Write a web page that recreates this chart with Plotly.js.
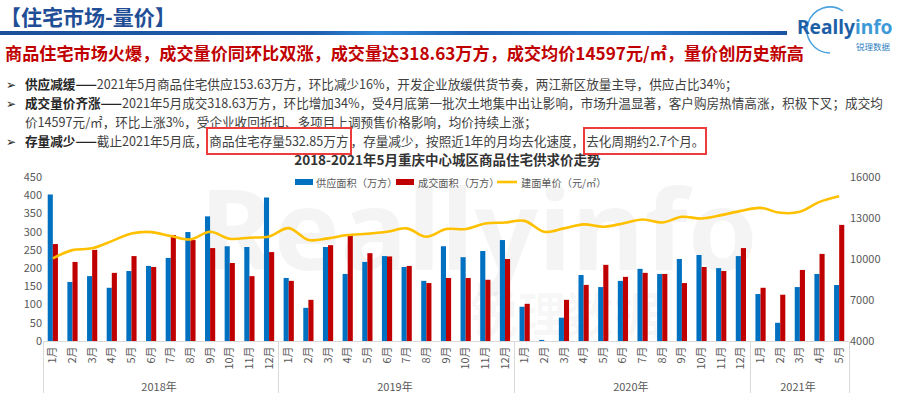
<!DOCTYPE html>
<html>
<head>
<meta charset="utf-8">
<script src="https://cdn.plot.ly/plotly-3.0.1.min.js"></script>
<style>
  html, body { margin:0; padding:0; background:#fff; }
  #page { position:relative; width:900px; height:393px; overflow:hidden; font-family:"Noto Sans CJK SC","Noto Sans",sans-serif; }
  .abs { position:absolute; white-space:nowrap; line-height:1; }
  #chart { position:absolute; left:0; top:0; width:900px; height:393px; z-index:1; }
  .txt { z-index:2; }
  .bl { font-size:12.6px; color:#404040; left:25px; }
  .bl b { color:#262626; }
  .bul { font-size:12px; color:#262626; left:6px; font-family:"DejaVu Sans",sans-serif; }
  .box { border:2px solid #ee3b3b; padding:2px 1px 3px 1px; margin:0 -1px; }
</style>
</head>
<body>
<div id="page">
  <div class="abs txt" style="left:0;top:6px;font-size:21px;font-weight:bold;color:#1F4E96;">【住宅市场-量价】</div>
  <div class="abs txt" style="left:0;top:31px;width:787px;height:4px;background:linear-gradient(90deg,#1b4f9a 0%,#1f5fb0 40%,#2f86d6 48%,#1f62b4 60%,#2a7bd0 80%,#1b55a3 100%);"></div>

  <svg class="abs txt" style="left:785px;top:4px;" width="115" height="52">
    <path d="M 58 7 A 23 23 0 1 0 45 49" fill="none" stroke="#4aa3df" stroke-width="1.5"/>
    <text x="12" y="30" font-family="Noto Sans, sans-serif" font-weight="bold" font-size="19.2"><tspan fill="#1d5fa6">Really</tspan><tspan fill="#3d9ad6">info</tspan></text>
    <text x="71" y="46" font-family="Noto Sans CJK SC, sans-serif" font-size="8.5" fill="#2e7fc1">锐理数据</text>
  </svg>

  <div class="abs txt" style="left:5px;top:44px;font-size:17.15px;font-weight:bold;color:#C00000;">商品住宅市场火爆，成交量价同环比双涨，成交量达318.63万方，成交均价14597元/㎡，量价创历史新高</div>

  <div class="abs txt bul" style="top:79px;">➢</div>
  <div class="abs txt bl" style="top:78px;"><b>供应减缓——</b>2021年5月商品住宅供应153.63万方，环比减少16%，开发企业放缓供货节奏，两江新区放量主导，供应占比34%；</div>
  <div class="abs txt bul" style="top:98px;">➢</div>
  <div class="abs txt bl" style="top:97px;"><b>成交量价齐涨——</b>2021年5月成交318.63万方，环比增加34%，受4月底第一批次土地集中出让影响，市场升温显著，客户购房热情高涨，积极下叉；成交均</div>
  <div class="abs txt bl" style="top:116px;">价14597元/㎡，环比上涨3%，受企业收回折扣、多项目上调预售价格影响，均价持续上涨；</div>
  <div class="abs txt bul" style="top:136px;">➢</div>
  <div class="abs txt bl" style="top:135px;"><b>存量减少——</b>截止2021年5月底，<span class="box">商品住宅存量532.85万方</span>，存量减少，按照近1年的月均去化速度，<span class="box">去化周期约2.7个月。</span></div>

  <div id="chart"></div>
</div>
<script>
const yearNames = ['2018年','2019年','2020年','2021年'];
const monthsPerYear = [12, 12, 12, 5];
const monthNames = ['1月','2月','3月','4月','5月','6月','7月','8月','9月','10月','11月','12月'];

const supplyArea = [402,162,178,146,192,206,228,299,342,260,258,394,
                    173,91,258,184,217,233,203,165,260,230,247,277,
                    94,3,64,181,148,165,198,184,225,236,200,233,
                    129,50,148,184,153.63];
const dealArea =   [266,217,250,187,233,203,291,277,255,214,178,244,
                    165,113,263,289,241,232,206,159,173,173,168,225,
                    102,0,113,154,209,176,187,184,159,203,192,255,
                    146,127,195,239,318.63];
const unitPrice =  [10050,10650,10780,11310,11870,11970,11680,11430,11990,11480,11560,11650,
                    12260,11390,11510,11750,11850,11990,12240,11630,12190,12190,12600,12670,
                    12790,11990,12240,12530,12360,12600,12890,12670,13090,12960,13210,13520,
                    13740,13380,13450,14180,14597];

const seriesNames = ['供应面积（万方）','成交面积（万方）','建面单价（元/㎡）'];
const seriesColors = ['#0070C0','#C00000','#FFC000'];
const chartTitle = '2018-2021年5月重庆中心城区商品住宅供求价走势';

const xYears = [], xMonths = [];
yearNames.forEach((y, i) => {
  for (let m = 0; m < monthsPerYear[i]; m++) { xYears.push(y); xMonths.push(monthNames[m]); }
});
const xCats = [xYears, xMonths];

const data = [
  { type:'bar', name:seriesNames[0], x:xCats, y:supplyArea, marker:{color:seriesColors[0]}, yaxis:'y' },
  { type:'bar', name:seriesNames[1], x:xCats, y:dealArea, marker:{color:seriesColors[1]}, yaxis:'y' },
  { type:'scatter', mode:'lines', name:seriesNames[2], x:xCats, y:unitPrice, yaxis:'y2',
    line:{color:seriesColors[2], width:2.6, shape:'spline', smoothing:1} }
];

// page geometry (px) -> paper coordinates for the hand-placed legend and watermark
const M = {l:43, r:51, t:177, b:52};
const PW = 900 - M.l - M.r, PH = 393 - M.t - M.b;
const px = x => (x - M.l) / PW;
const py = y => (393 - M.b - y) / PH;
const legY = 182;
const legItems = [ {sw:295, tx:315}, {sw:396, tx:417}, {sw:497, tx:520} ];
const shapes = [], annotations = [];
legItems.forEach((it, i) => {
  if (i < 2) {
    shapes.push({type:'rect', xref:'paper', yref:'paper', x0:px(it.sw), x1:px(it.sw+18),
                 y0:py(legY+3), y1:py(legY-3), fillcolor:seriesColors[i], line:{width:0}});
  } else {
    shapes.push({type:'line', xref:'paper', yref:'paper', x0:px(it.sw), x1:px(it.sw+20),
                 y0:py(legY), y1:py(legY), line:{color:seriesColors[i], width:2.6}});
  }
  annotations.push({xref:'paper', yref:'paper', x:px(it.tx), y:py(legY), xanchor:'left', yanchor:'middle',
                    text:seriesNames[i], showarrow:false, font:{size:10.2, color:'#595959'}, borderpad:0});
});

// faint logo watermark behind the plot (an image, as in the source slide)
const wmSvg = '<svg xmlns="http://www.w3.org/2000/svg" width="600" height="180" viewBox="0 0 600 180">' +
  '<text x="0" y="100" font-family="Noto Sans, sans-serif" font-weight="bold" font-size="112" fill="rgba(0,0,0,0.045)">Reallyinfo</text>' +
  '<text x="270" y="162" font-family="Noto Sans CJK SC, sans-serif" font-weight="bold" font-size="48" fill="rgba(0,0,0,0.04)">锐理数据</text></svg>';
const images = [{source:'data:image/svg+xml;charset=utf-8,' + encodeURIComponent(wmSvg),
  xref:'paper', yref:'paper', x:px(200), y:py(170), sizex:600/PW, sizey:180/PH,
  xanchor:'left', yanchor:'top', sizing:'stretch', layer:'below'}];

const tickFont = {family:'Noto Sans CJK SC, sans-serif', size:11, color:'#595959'};
const layout = {
  width:900, height:393,
  margin:{l:M.l, r:M.r, t:M.t, b:M.b, pad:0},
  paper_bgcolor:'rgba(0,0,0,0)', plot_bgcolor:'rgba(0,0,0,0)',
  font:{family:'Noto Sans CJK SC, sans-serif', size:11, color:'#595959'},
  title:{text:'<b>'+chartTitle+'</b>', font:{size:13.5, color:'#333333'},
         xref:'container', x:0.497, xanchor:'center', yref:'container', y:1-160/393, yanchor:'middle'},
  barmode:'group', bargap:0.48, bargroupgap:0,
  showlegend:false,
  shapes:shapes, annotations:annotations, images:images,
  xaxis:{type:'multicategory', tickangle:-90, showline:true, linecolor:'#d9d9d9', linewidth:1,
         showdividers:true, dividercolor:'#d9d9d9', dividerwidth:1, ticks:'', tickfont:tickFont,
         showgrid:false, automargin:false},
  yaxis:{range:[0,450], dtick:50, showgrid:false, zeroline:false, showline:false, ticks:'',
         tickfont:tickFont, automargin:false},
  yaxis2:{range:[4000,16000], tick0:4000, dtick:3000, tickformat:'d', overlaying:'y', side:'right',
          showgrid:false, zeroline:false, showline:false, ticks:'', tickfont:tickFont, automargin:false}
};
Plotly.newPlot('chart', data, layout, {displayModeBar:false, staticPlot:true});
</script>
</body>
</html>
